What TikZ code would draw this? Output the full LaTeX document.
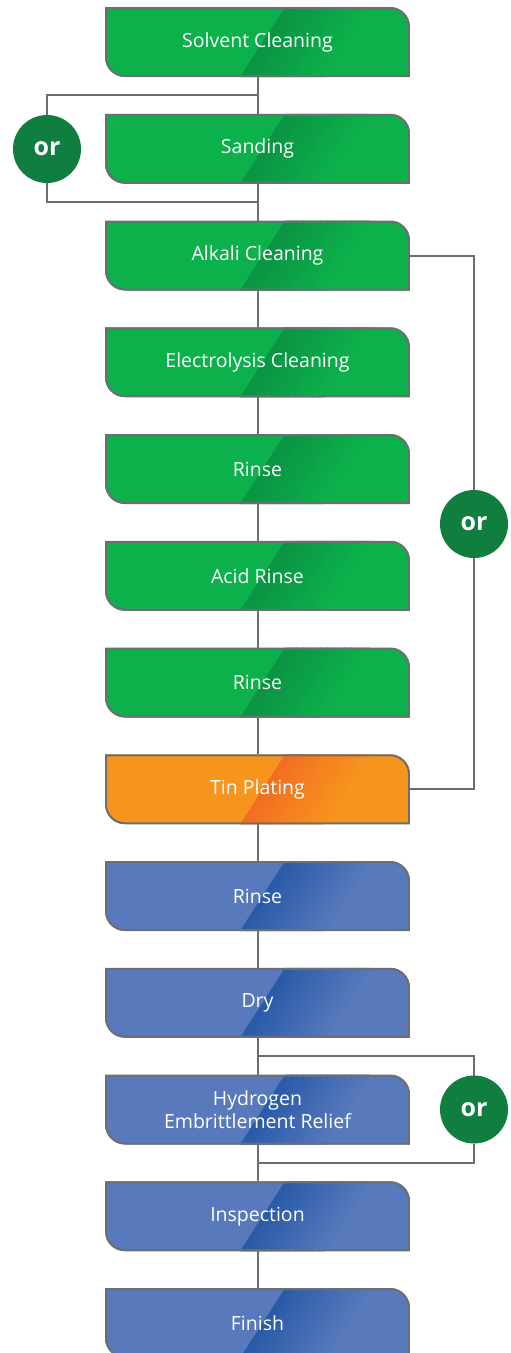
\documentclass[tikz,border=0pt]{standalone}
\usepackage{fontspec}
\setmainfont{Open Sans}
\usetikzlibrary{positioning,calc}
\definecolor{grnbase}{RGB}{13,177,75}
\definecolor{grndark}{RGB}{10,148,68}
\definecolor{orgbase}{RGB}{247,148,29}
\definecolor{orgdark}{RGB}{242,110,34}
\definecolor{blubase}{RGB}{88,121,188}
\definecolor{bludark}{RGB}{42,91,168}
\definecolor{orgreen}{RGB}{15,126,62}
\definecolor{lnkgray}{RGB}{110,110,113}
\tikzset{
  stepbox/.style 2 args={minimum width=305pt, minimum height=70pt, inner sep=0pt, outer sep=0pt,
    align=center, text=white, font=\fontsize{19.5}{23}\selectfont,
    path picture={
      \coordinate (bl) at (path picture bounding box.south west);
      \coordinate (tr) at (path picture bounding box.north east);
      \clip (bl |- tr) -- ([xshift=-20pt]tr) arc[start angle=90,end angle=0,radius=20pt]
        -- (tr |- bl) -- ([xshift=20pt]bl) arc[start angle=270,end angle=180,radius=20pt] -- cycle;
      \fill[#1] (bl) rectangle (tr);
      \foreach \i in {0,...,13}{
        \pgfmathtruncatemacro{\p}{100*\i/14}
        \fill[#1!\p!#2] ([xshift={135pt+6pt*\i}]bl) -- ([xshift={142pt+6pt*\i}]bl)
          -- ([xshift={-118pt+6pt*\i}]tr) -- ([xshift={-125pt+6pt*\i}]tr) -- cycle;
      }
      \draw[lnkgray, line width=4pt] (bl |- tr) -- ([xshift=-20pt]tr) arc[start angle=90,end angle=0,radius=20pt]
        -- (tr |- bl) -- ([xshift=20pt]bl) arc[start angle=270,end angle=180,radius=20pt] -- cycle;
    }},
  grnbox/.style={stepbox={grnbase}{grndark}},
  orgbox/.style={stepbox={orgbase}{orgdark}},
  blubox/.style={stepbox={blubase}{bludark}},
  ornode/.style={circle, fill=orgreen, minimum size=68pt, inner sep=0pt, outer sep=0pt, text=white,
    font=\fontsize{25}{30}\selectfont\bfseries},
  link/.style={lnkgray, line width=2pt}
}

\begin{document}
\begin{tikzpicture}[x=1pt, y=1pt, node distance=36.75pt]
\path[use as bounding box, fill=white] (0,0) rectangle (511,-1353);

\node[grnbox] (SolC) at (257.5,-42) {Solvent Cleaning};
\node[grnbox, below=of SolC] (Sand) {Sanding};
\node[grnbox, below=of Sand] (AlkC) {Alkali Cleaning};
\node[grnbox, below=of AlkC] (ElyC) {Electrolysis Cleaning};
\node[grnbox, below=of ElyC] (RinA) {Rinse};
\node[grnbox, below=of RinA] (AcdR) {Acid Rinse};
\node[grnbox, below=of AcdR] (RinB) {Rinse};
\node[orgbox, below=of RinB] (TinP) {Tin Plating};
\node[blubox, below=of TinP] (RinC) {Rinse};
\node[blubox, below=of RinC] (Dry) {Dry};
\node[blubox, below=of Dry] (HER) {Hydrogen\\Embrittlement Relief};
\node[blubox, below=of HER] (Insp) {Inspection};
\node[blubox, below=of Insp] (Fin) {Finish};

\foreach \a/\b in {SolC/Sand, Sand/AlkC, AlkC/ElyC, ElyC/RinA, RinA/AcdR, AcdR/RinB,
    RinB/TinP, TinP/RinC, RinC/Dry, Dry/HER, HER/Insp, Insp/Fin}
  \draw[link] (\a) -- (\b);

% or branches
\coordinate (j1) at ($(SolC.south)!0.5!(Sand.north)$);
\coordinate (j2) at ($(Sand.south)!0.5!(AlkC.north)$);
\coordinate (j3) at ($(Dry.south)!0.5!(HER.north)$);
\coordinate (j4) at ($(HER.south)!0.5!(Insp.north)$);
\node[ornode] (or1) at (47,-149) {or};
\node[ornode] (or2) at (474,-524) {or};
\node[ornode] (or3) at (474,-1109.5) {or};
\draw[link] (j1) -| (or1);
\draw[link] (j2) -| (or1);
\draw[link] (AlkC.east) -| (or2);
\draw[link] (TinP.east) -| (or2);
\draw[link] (j3) -| (or3);
\draw[link] (j4) -| (or3);
\end{tikzpicture}
\end{document}
